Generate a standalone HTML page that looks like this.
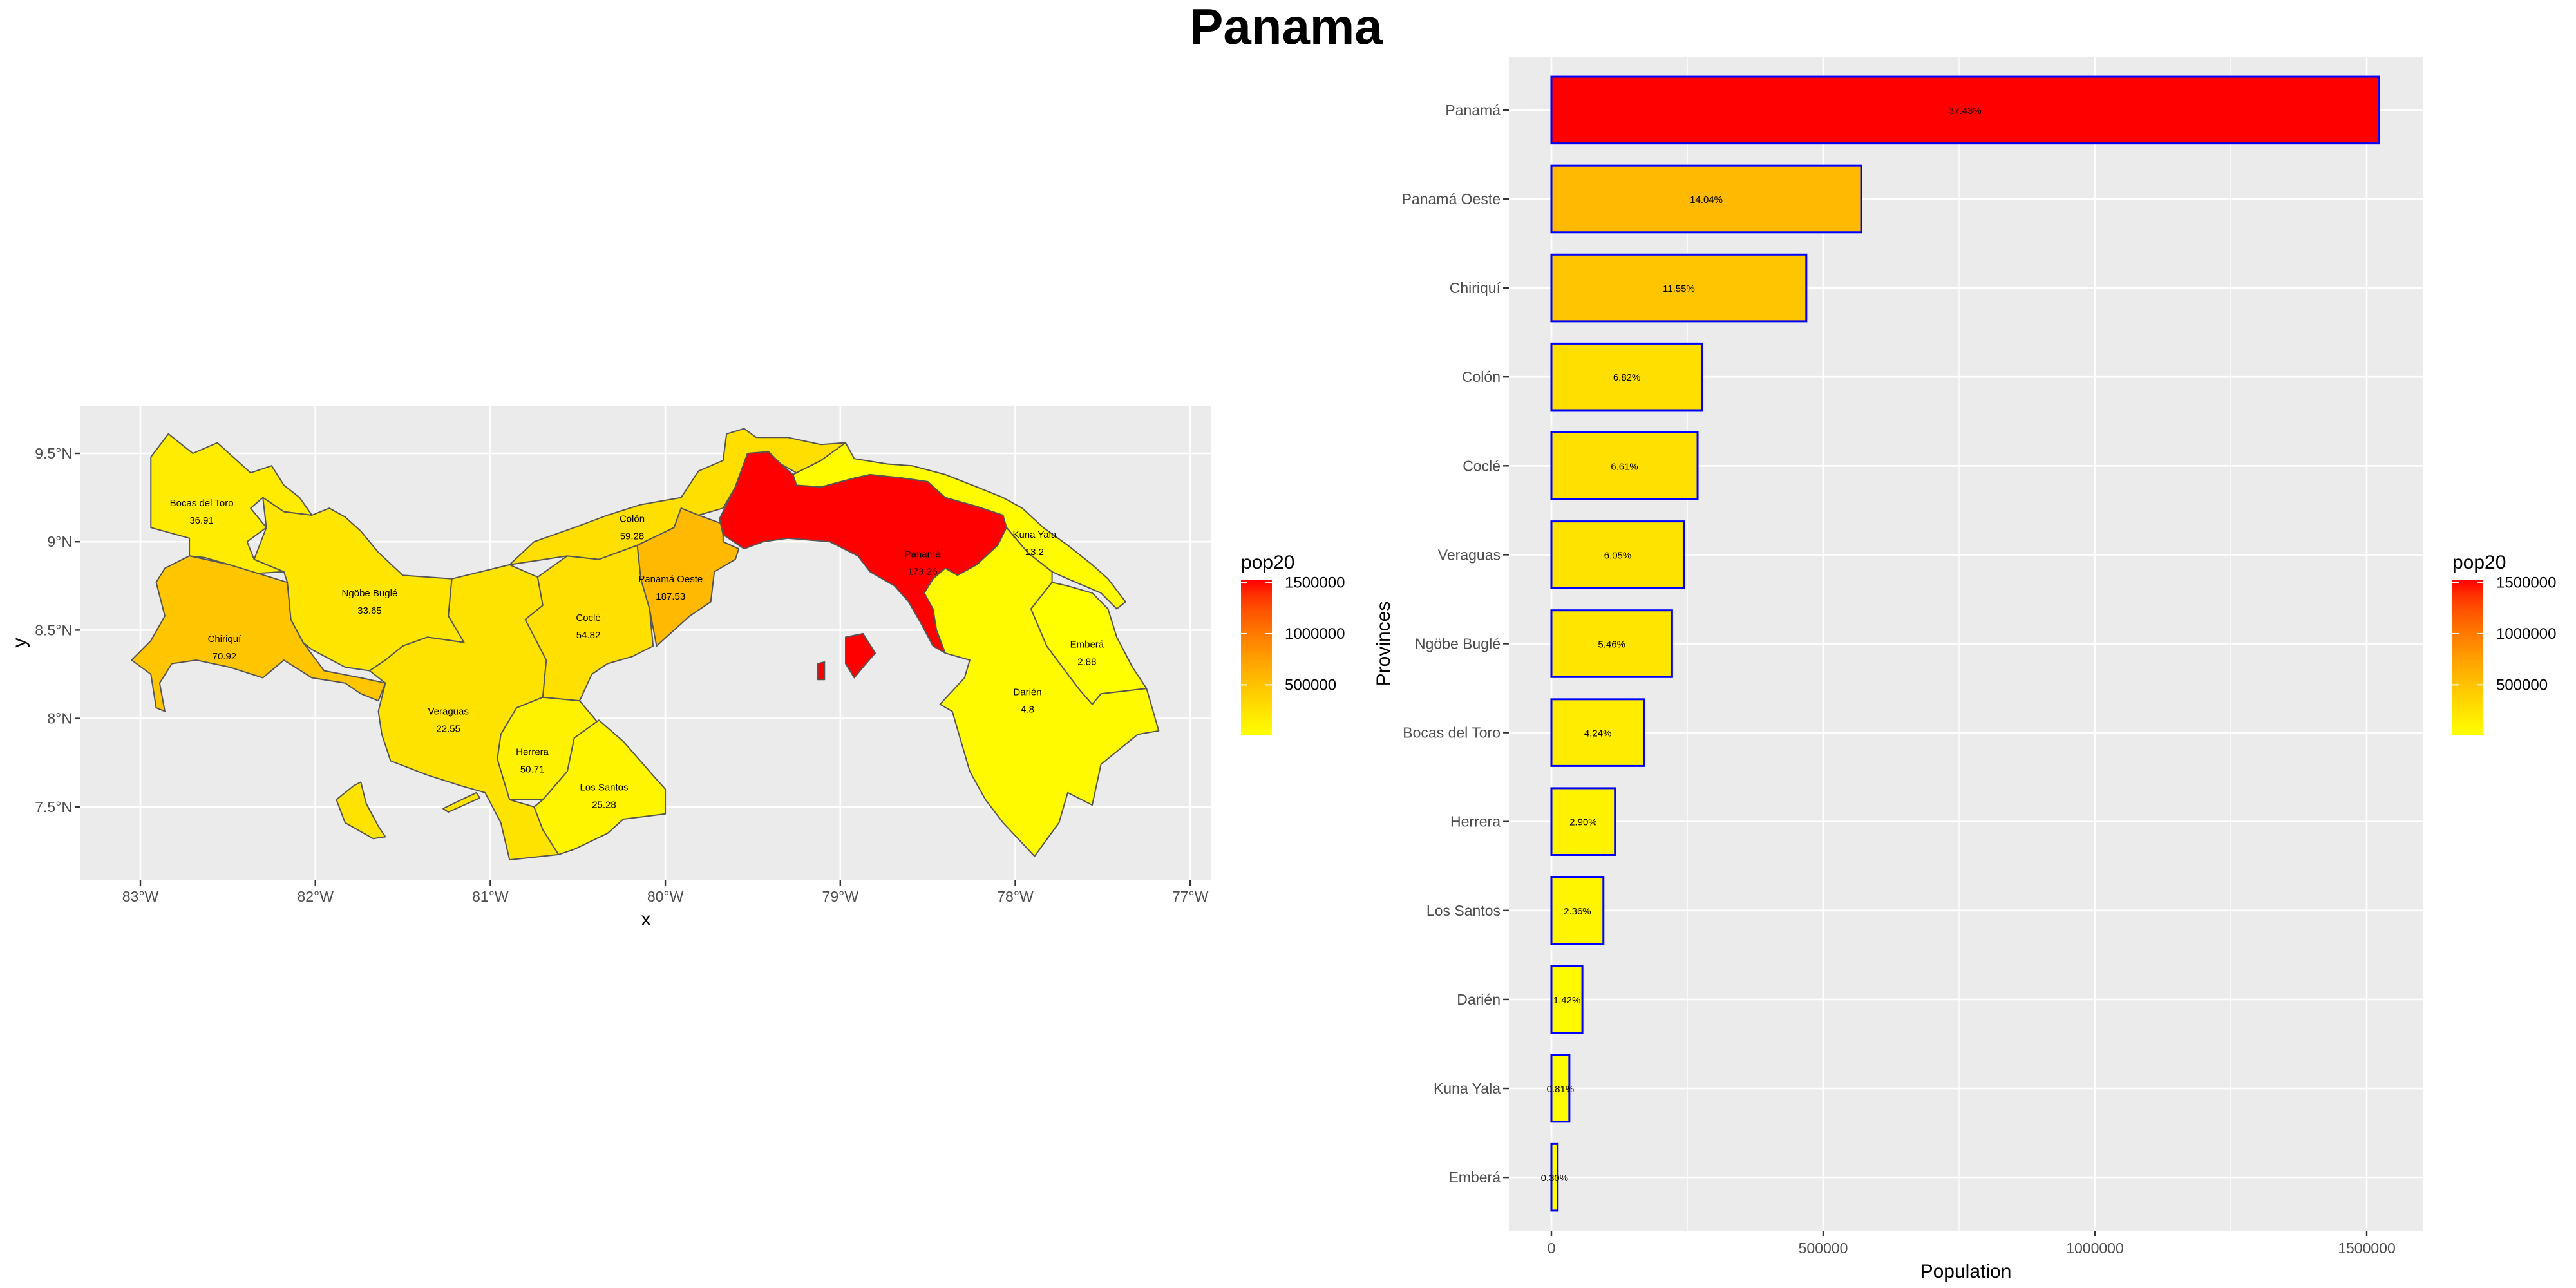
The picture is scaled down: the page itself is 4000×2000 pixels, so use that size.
<!DOCTYPE html>
<html><head><meta charset="utf-8">
<style>
html,body{margin:0;padding:0;background:#fff;}
svg{display:block;font-family:"Liberation Sans",Arial,sans-serif;}
</style></head>
<body>
<svg id="fig" width="4000" height="2000" viewBox="0 0 4000 2000" xmlns="http://www.w3.org/2000/svg">
<text x="1997" y="68" text-anchor="middle" font-size="78" font-weight="bold" fill="#000">Panama</text>
<g id="map"></g>
<g id="bars"></g>
</svg>
<script>
// ---------- BAR CHART DATA ----------
const provinces = ["Panamá","Panamá Oeste","Chiriquí","Colón","Coclé","Veraguas","Ngöbe Buglé","Bocas del Toro","Herrera","Los Santos","Darién","Kuna Yala","Emberá"];
const population = [1522000,570000,469000,277500,269000,244000,222000,171000,117000,95700,57000,33000,11500];
const percentLabels = ["37.43%","14.04%","11.55%","6.82%","6.61%","6.05%","5.46%","4.24%","2.90%","2.36%","1.42%","0.81%","0.30%"];
const xTicks = [0,500000,1000000,1500000];
const xMinorTicks = [250000,750000,1250000];
const legendTicks = [500000,1000000,1500000];
// ---------- MAP DATA (density labels) ----------
const mapNames = ["Bocas del Toro","Chiriquí","Ngöbe Buglé","Veraguas","Coclé","Colón","Panamá Oeste","Panamá","Kuna Yala","Darién","Emberá","Herrera","Los Santos"];
const mapDensity = ["36.91","70.92","33.65","22.55","54.82","59.28","187.53","173.26","13.2","4.8","2.88","50.71","25.28"];
const mapLabelLon = [-82.65,-82.52,-81.69,-81.24,-80.44,-80.19,-79.97,-78.53,-77.89,-77.93,-77.59,-80.76,-80.35];
const mapLabelLat = [9.22,8.45,8.71,8.04,8.57,9.13,8.79,8.93,9.04,8.15,8.42,7.81,7.61];
const lonTicks = [-83,-82,-81,-80,-79,-78,-77];
const latTicks = [7.5,8,8.5,9,9.5];
// province shapes in [lon,lat]
const shapes = {
"Bocas del Toro":[[[-82.94,9.48],[-82.84,9.61],[-82.70,9.50],[-82.56,9.56],[-82.37,9.39],[-82.25,9.43],[-82.18,9.32],[-82.09,9.25],[-82.02,9.15],[-82.18,9.17],[-82.30,9.25],[-82.37,9.19],[-82.28,9.08],[-82.39,9.00],[-82.35,8.90],[-82.18,8.83],[-82.35,8.82],[-82.49,8.87],[-82.63,8.91],[-82.72,8.92],[-82.72,9.02],[-82.94,9.08]]],
"Chiriquí":[[[-82.72,8.92],[-82.49,8.87],[-82.16,8.77],[-82.14,8.56],[-82.07,8.43],[-81.95,8.27],[-81.74,8.23],[-81.60,8.20],[-81.64,8.10],[-81.74,8.14],[-81.83,8.20],[-82.02,8.23],[-82.18,8.33],[-82.30,8.23],[-82.49,8.29],[-82.68,8.33],[-82.82,8.31],[-82.89,8.20],[-82.86,8.04],[-82.91,8.06],[-82.94,8.25],[-83.05,8.33],[-82.94,8.44],[-82.86,8.58],[-82.91,8.77],[-82.86,8.85]]],
"Ngöbe Buglé":[[[-82.18,9.17],[-82.02,9.15],[-81.92,9.19],[-81.83,9.14],[-81.74,9.06],[-81.64,8.94],[-81.50,8.81],[-81.22,8.79],[-81.24,8.58],[-81.15,8.43],[-81.36,8.46],[-81.50,8.41],[-81.60,8.33],[-81.69,8.27],[-81.83,8.29],[-82.02,8.39],[-82.07,8.43],[-82.14,8.56],[-82.16,8.77],[-82.18,8.83],[-82.35,8.90],[-82.28,9.08],[-82.30,9.25]]],
"Veraguas":[[[-81.22,8.79],[-80.89,8.87],[-80.73,8.80],[-80.70,8.64],[-80.80,8.56],[-80.68,8.33],[-80.70,8.12],[-80.85,8.06],[-80.94,7.91],[-80.96,7.77],[-80.89,7.54],[-80.75,7.50],[-80.70,7.37],[-80.61,7.23],[-80.89,7.20],[-80.94,7.41],[-81.03,7.58],[-81.17,7.62],[-81.36,7.68],[-81.57,7.76],[-81.62,7.91],[-81.64,8.04],[-81.60,8.20],[-81.69,8.27],[-81.60,8.33],[-81.50,8.41],[-81.36,8.46],[-81.15,8.43],[-81.24,8.58]],
 [[-81.78,7.62],[-81.74,7.64],[-81.71,7.52],[-81.64,7.39],[-81.60,7.33],[-81.67,7.32],[-81.83,7.41],[-81.88,7.54]],
 [[-81.27,7.49],[-81.08,7.58],[-81.06,7.55],[-81.24,7.47]]],
"Coclé":[[[-80.73,8.80],[-80.56,8.92],[-80.38,8.90],[-80.16,8.98],[-80.14,8.79],[-80.09,8.62],[-80.07,8.41],[-80.19,8.35],[-80.33,8.31],[-80.42,8.25],[-80.49,8.10],[-80.70,8.12],[-80.68,8.33],[-80.80,8.56],[-80.70,8.64]]],
"Colón":[[[-80.89,8.87],[-80.75,9.00],[-80.52,9.08],[-80.33,9.15],[-80.14,9.21],[-79.91,9.25],[-79.81,9.40],[-79.67,9.46],[-79.65,9.61],[-79.55,9.64],[-79.48,9.59],[-79.30,9.59],[-79.11,9.55],[-78.97,9.56],[-79.11,9.46],[-79.25,9.39],[-79.34,9.44],[-79.41,9.49],[-79.53,9.50],[-79.60,9.31],[-79.67,9.19],[-79.81,9.15],[-79.91,9.19],[-79.95,9.08],[-80.16,8.98],[-80.38,8.90],[-80.56,8.92]]],
"Panamá Oeste":[[[-79.91,9.19],[-79.81,9.15],[-79.67,9.10],[-79.67,9.00],[-79.58,8.96],[-79.60,8.90],[-79.72,8.83],[-79.74,8.66],[-79.86,8.58],[-80.05,8.41],[-80.09,8.62],[-80.14,8.79],[-80.16,8.98],[-79.95,9.08]]],
"Panamá":[[[-79.53,9.50],[-79.41,9.51],[-79.34,9.44],[-79.27,9.38],[-79.25,9.32],[-79.11,9.31],[-78.92,9.36],[-78.83,9.38],[-78.64,9.36],[-78.50,9.34],[-78.40,9.25],[-78.22,9.20],[-78.07,9.15],[-78.05,9.08],[-78.10,8.98],[-78.22,8.87],[-78.33,8.81],[-78.40,8.85],[-78.47,8.79],[-78.52,8.71],[-78.47,8.62],[-78.45,8.50],[-78.40,8.37],[-78.47,8.41],[-78.54,8.54],[-78.61,8.66],[-78.69,8.75],[-78.83,8.83],[-78.90,8.92],[-79.06,9.00],[-79.30,9.02],[-79.44,9.00],[-79.55,8.96],[-79.67,9.04],[-79.69,9.13],[-79.60,9.31]],
 [[-78.97,8.46],[-78.87,8.48],[-78.80,8.37],[-78.87,8.29],[-78.92,8.23],[-78.97,8.31]],
 [[-79.13,8.31],[-79.09,8.32],[-79.09,8.22],[-79.13,8.22]]],
"Kuna Yala":[[[-78.97,9.56],[-78.92,9.47],[-78.73,9.44],[-78.59,9.43],[-78.40,9.38],[-78.22,9.31],[-78.07,9.25],[-77.96,9.19],[-77.84,9.08],[-77.70,8.98],[-77.56,8.87],[-77.47,8.79],[-77.37,8.66],[-77.42,8.62],[-77.51,8.71],[-77.70,8.79],[-77.79,8.83],[-77.93,8.94],[-78.05,9.08],[-78.07,9.15],[-78.22,9.20],[-78.40,9.25],[-78.50,9.34],[-78.64,9.36],[-78.83,9.38],[-78.92,9.36],[-79.11,9.31],[-79.25,9.32],[-79.27,9.38],[-79.11,9.46]]],
"Darién":[[[-78.33,8.81],[-78.22,8.87],[-78.10,8.98],[-78.05,9.08],[-77.93,8.94],[-77.79,8.83],[-77.79,8.77],[-77.91,8.62],[-77.82,8.41],[-77.70,8.25],[-77.63,8.16],[-77.56,8.08],[-77.51,8.14],[-77.25,8.17],[-77.18,7.93],[-77.30,7.91],[-77.51,7.74],[-77.56,7.51],[-77.70,7.58],[-77.75,7.41],[-77.89,7.22],[-78.07,7.41],[-78.17,7.54],[-78.26,7.70],[-78.31,7.87],[-78.36,8.04],[-78.43,8.08],[-78.29,8.23],[-78.26,8.33],[-78.40,8.37],[-78.45,8.50],[-78.47,8.62],[-78.52,8.71],[-78.47,8.79],[-78.40,8.85]]],
"Emberá":[[[-77.79,8.77],[-77.70,8.75],[-77.56,8.71],[-77.47,8.62],[-77.42,8.46],[-77.33,8.29],[-77.25,8.17],[-77.51,8.14],[-77.56,8.08],[-77.63,8.16],[-77.70,8.25],[-77.82,8.41],[-77.91,8.62]]],
"Herrera":[[[-80.70,8.12],[-80.49,8.10],[-80.38,7.97],[-80.52,7.89],[-80.56,7.70],[-80.70,7.54],[-80.89,7.54],[-80.96,7.77],[-80.94,7.91],[-80.85,8.06]]],
"Los Santos":[[[-80.38,7.99],[-80.24,7.87],[-80.09,7.70],[-80.00,7.60],[-80.00,7.46],[-80.24,7.43],[-80.33,7.35],[-80.52,7.26],[-80.61,7.23],[-80.70,7.37],[-80.75,7.50],[-80.70,7.54],[-80.56,7.70],[-80.52,7.89]]]
};

const NS="http://www.w3.org/2000/svg";
function mk(tag,attrs,parent){const e=document.createElementNS(NS,tag);for(const k in attrs)e.setAttribute(k,attrs[k]);parent.appendChild(e);return e;}
const popMin=Math.min(...population), popMax=Math.max(...population);
function fillColor(v){let t=(v-popMin)/(popMax-popMin);t=Math.max(0,Math.min(1,t));const g=Math.round(255*Math.pow(1-t,0.7));return `rgb(255,${g},0)`;}
function popOf(name){return population[provinces.indexOf(name)];}

function drawLegend(g,x0,name){
  const top=901,bot=1141,w=48;
  const ly=v=>top+(popMax-v)/(popMax-popMin)*(bot-top);
  const defs=mk('defs',{},g);
  const grad=mk('linearGradient',{id:'grad-'+name,x1:0,y1:1,x2:0,y2:0},defs);
  for(let i=0;i<=10;i++){const v=popMin+(popMax-popMin)*i/10;mk('stop',{offset:(i*10)+'%','stop-color':fillColor(v)},grad);}
  const t=mk('text',{x:x0,y:883,'font-size':30,fill:'#000'},g);t.textContent='pop20';
  
  
  const r=mk('rect',{x:x0,y:top,width:w,height:bot-top,fill:`url(#grad-${name})`},g);
  
  
  legendTicks.forEach(v=>{
    const y=ly(v);
    mk('line',{x1:x0,x2:x0+10,y1:y,y2:y,stroke:'#fff','stroke-width':2},g);
    mk('line',{x1:x0+w-10,x2:x0+w,y1:y,y2:y,stroke:'#fff','stroke-width':2},g);
    const l=mk('text',{x:x0+68,y:y+8,'font-size':24,fill:'#000'},g);l.textContent=String(v);
    
    
  });
}

// ---------- MAP ----------
(function(){
  const g=document.getElementById('map');
  const L=125,R=1880,T=630,B=1367;
  const px=lon=>218+(lon+83)*271.7;
  const py=lat=>704+(9.5-lat)*274.4;
  const bg=mk('rect',{x:L,y:T,width:R-L,height:B-T,fill:'#EBEBEB'},g);
  
  
  lonTicks.forEach(v=>{
    const x=px(v);
    mk('line',{x1:x,x2:x,y1:T,y2:B,stroke:'#fff','stroke-width':2.6},g);
    mk('line',{x1:x,x2:x,y1:B,y2:B+9,stroke:'#333','stroke-width':2.4},g);
    const t=mk('text',{x:x,y:B+33,'font-size':23,fill:'#4D4D4D','text-anchor':'middle'},g);t.textContent=Math.abs(v)+'°W';
    
    
  });
  latTicks.forEach(v=>{
    const y=py(v);
    mk('line',{x1:L,x2:R,y1:y,y2:y,stroke:'#fff','stroke-width':2.6},g);
    mk('line',{x1:L-9,x2:L,y1:y,y2:y,stroke:'#333','stroke-width':2.4},g);
    const t=mk('text',{x:L-13,y:y+8,'font-size':23,fill:'#4D4D4D','text-anchor':'end'},g);t.textContent=v+'°N';
    
    
  });
  mapNames.forEach(name=>{
    const d=shapes[name].map(ring=>'M'+ring.map(p=>px(p[0]).toFixed(1)+','+py(p[1]).toFixed(1)).join('L')+'Z').join('');
    const p=mk('path',{d:d,fill:fillColor(popOf(name)),stroke:'#555','stroke-width':2,'stroke-linejoin':'round'},g);
    
    
  });
  mapNames.forEach((name,i)=>{
    const x=px(mapLabelLon[i]),y=py(mapLabelLat[i]);
    const a=mk('text',{x:x,y:y+5,'font-size':15,fill:'#000','text-anchor':'middle'},g);a.textContent=name;
    
    
    const b=mk('text',{x:x,y:y+32,'font-size':15,fill:'#000','text-anchor':'middle'},g);b.textContent=mapDensity[i];
    
    
  });
  const xt=mk('text',{x:1003,y:1437,'font-size':30,fill:'#000','text-anchor':'middle'},g);xt.textContent='x';
  
  
  const yt=mk('text',{x:0,y:0,'font-size':30,fill:'#000','text-anchor':'middle',transform:'translate(40,998) rotate(-90)'},g);yt.textContent='y';
  
  
  drawLegend(g,1927,'map');
})();

// ---------- BAR CHART ----------
(function(){
  const g=document.getElementById('bars');
  const L=2343,R=3762,T=88,B=1911;
  const x0=2409, xs=1266/1500000;
  const xp=v=>x0+v*xs;
  const step=(B-T)/(provinces.length-1+1.2);
  const yc=i=>T+step*(0.6+i);
  const bh=step*0.75;
  const bg=mk('rect',{x:L,y:T,width:R-L,height:B-T,fill:'#EBEBEB'},g);
  
  
  xMinorTicks.forEach(v=>mk('line',{x1:xp(v),x2:xp(v),y1:T,y2:B,stroke:'#fff','stroke-width':1.3},g));
  xTicks.forEach(v=>{
    const x=xp(v);
    mk('line',{x1:x,x2:x,y1:T,y2:B,stroke:'#fff','stroke-width':2.6},g);
    mk('line',{x1:x,x2:x,y1:B,y2:B+9,stroke:'#333','stroke-width':2.4},g);
    const t=mk('text',{x:x,y:B+35,'font-size':23,fill:'#4D4D4D','text-anchor':'middle'},g);t.textContent=String(v);
    
    
  });
  provinces.forEach((name,i)=>{
    const y=yc(i);
    mk('line',{x1:L,x2:R,y1:y,y2:y,stroke:'#fff','stroke-width':2.6},g);
    mk('line',{x1:L-9,x2:L,y1:y,y2:y,stroke:'#333','stroke-width':2.4},g);
    const t=mk('text',{x:L-13,y:y+8,'font-size':23,fill:'#4D4D4D','text-anchor':'end'},g);t.textContent=name;
    
    
  });
  provinces.forEach((name,i)=>{
    const y=yc(i),v=population[i];
    const r=mk('rect',{x:xp(0),y:y-bh/2,width:xp(v)-xp(0),height:bh,fill:fillColor(v),stroke:'#0000FF','stroke-width':3},g);
    
    
    const t=mk('text',{x:(xp(0)+xp(v))/2,y:y+6,'font-size':15,fill:'#000','text-anchor':'middle'},g);t.textContent=percentLabels[i];
    
    
  });
  const xt=mk('text',{x:(L+R)/2,y:1984,'font-size':30,fill:'#000','text-anchor':'middle'},g);xt.textContent='Population';
  
  
  const yt=mk('text',{x:0,y:0,'font-size':30,fill:'#000','text-anchor':'middle',transform:`translate(2158,${(T+B)/2}) rotate(-90)`},g);yt.textContent='Provinces';
  
  
  drawLegend(g,3808,'bar');
})();
</script>
</body></html>
